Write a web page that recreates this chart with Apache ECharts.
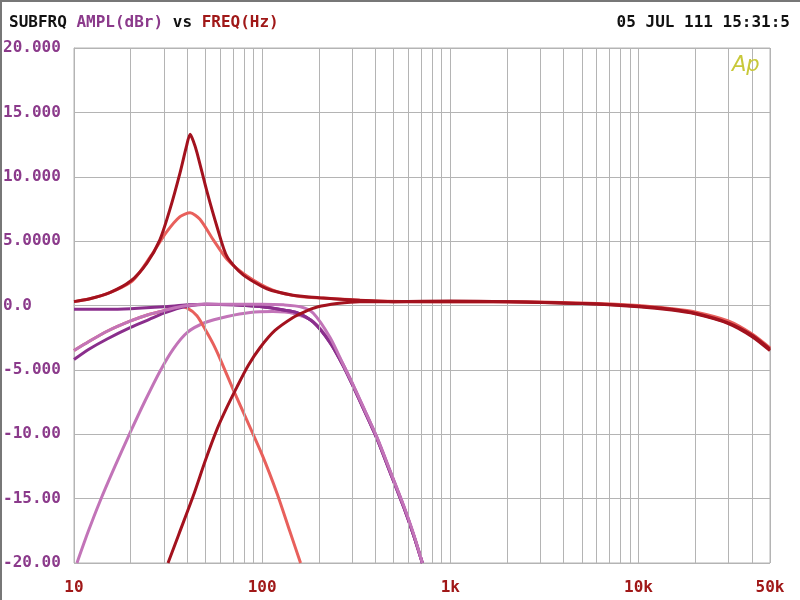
<!DOCTYPE html>
<html><head><meta charset="utf-8">
<script src="https://cdn.jsdelivr.net/npm/echarts@6/dist/echarts.min.js"></script>
<style>html,body{margin:0;padding:0;background:#fff}#c{width:800px;height:600px}</style>
</head><body><div id="c"></div>
<script>
// ---- tick labels ----
const yTickValues = [-20, -15, -10, -5, 0, 5, 10, 15, 20];
const yTickLabels = ['-20.00', '-15.00', '-10.00', '-5.000', '0.0', '5.0000', '10.000', '15.000', '20.000'];
const xTickValues = [10, 100, 1000, 10000, 50000];
const xTickLabels = ['10', '100', '1k', '10k', '50k'];
const xMinorGrid = [20, 30, 40, 50, 60, 70, 80, 90, 200, 300, 400, 500, 600, 700, 800, 900,
  2000, 3000, 4000, 5000, 6000, 7000, 8000, 9000, 20000, 30000, 40000];

// ---- series values: [frequency Hz, amplitude dBr] ----
const darkRedPeak = [[10,0.3],[12,0.5],[15.5,1.0],[20,1.9],[24.4,3.3],[28.6,5.1],[32.4,7.5],[36.6,10.3],
  [39.5,12.3],[41.4,13.3],[43,12.8],[45,11.9],[51,8.8],[57.6,6.1],[65,3.8],[79,2.4],[106,1.3],[146,0.8],
  [203,0.6],[330,0.4],[500,0.3],[1000,0.3],[2000,0.3],[5000,0.15],[10000,-0.05],[15000,-0.3],[20000,-0.6],
  [30000,-1.35],[40000,-2.3],[50000,-3.4]];
const lightRedPeak = [[10,0.3],[12,0.5],[15.5,1.0],[20,1.8],[22.4,2.6],[26.3,4.1],[31,5.7],[36.6,6.9],
  [41.4,7.2],[46.7,6.7],[55,5.1],[65,3.6],[83,2.3],[114,1.2],[159,0.7],[260,0.5],[420,0.35],[1000,0.3],
  [2000,0.3],[5000,0.2],[10000,0.0],[15000,-0.25],[20000,-0.5],[30000,-1.2],[40000,-2.2],[50000,-3.3]];
const lightRedLowpass = [[10,-3.5],[12,-2.8],[15,-2.0],[20,-1.2],[25,-0.7],[30,-0.4],[36,-0.1],[40,-0.2],
  [45,-0.8],[50,-1.9],[55,-3.0],[60,-4.2],[70,-6.5],[80,-8.4],[100,-11.6],[120,-14.6],[140,-17.5],[160,-20]];
const darkRedHighpass = [[31.6,-20],[36,-17.8],[43,-14.8],[50,-12.0],[57.6,-9.6],[65,-7.9],[73.6,-6.3],
  [84.3,-4.66],[97.6,-3.26],[117,-1.94],[146,-0.93],[169,-0.47],[196,-0.12],[250,0.15],[330,0.3],[500,0.3],
  [1000,0.35],[2000,0.3],[5000,0.15],[10000,-0.1],[15000,-0.35],[20000,-0.65],[30000,-1.4],[40000,-2.4],[50000,-3.5]];
const darkPurpleFlat = [[10,-0.3],[15,-0.3],[20,-0.25],[30,-0.1],[40,0.05],[50,0.1],[70,0.05],[100,-0.1],
  [130,-0.35],[153,-0.55],[187,-1.3],[230,-2.9],[270,-4.7],[305,-6.3],[350,-8.2],[409,-10.4],[480,-13.0],
  [563,-15.6],[640,-17.9],[710,-20]];
const darkPurpleRising = [[10,-4.2],[12,-3.4],[15,-2.6],[20,-1.7],[25,-1.1],[30,-0.6],[35,-0.25],[40,-0.05],
  [50,0.1],[70,0.05],[100,-0.1],[130,-0.35],[153,-0.55],[187,-1.3],[230,-2.9],[270,-4.7],[305,-6.3],
  [350,-8.2],[409,-10.4],[480,-13.0],[563,-15.6],[640,-17.9],[710,-20]];
const orchidRising = [[10,-3.5],[12,-2.8],[15,-2.0],[20,-1.2],[25,-0.7],[30,-0.4],[35,-0.15],[40,0.0],
  [50,0.1],[70,0.1],[100,0.1],[130,0.05],[160,-0.1],[187,-0.6],[230,-2.5],[270,-4.6],[305,-6.2],[350,-8.1],
  [409,-10.3],[480,-12.9],[563,-15.5],[640,-17.8],[710,-20]];
const orchidHighpass = [[10.37,-20],[11.87,-17.6],[13.75,-15.2],[16.5,-12.5],[19.84,-9.9],[23.87,-7.4],
  [28.65,-5.1],[33.6,-3.4],[39.9,-2.1],[49.8,-1.32],[65.2,-0.85],[86.4,-0.54],[114,-0.47],[146,-0.6],
  [187,-1.25],[230,-2.8],[270,-4.6],[305,-6.2],[350,-8.1],[409,-10.3],[480,-12.9],[563,-15.5],[640,-17.9],[710,-20]];

const C_DARKRED = '#a3121e', C_LIGHTRED = '#e8605c', C_DPURPLE = '#8a2e8c', C_ORCHID = '#c274b8';
const C_GRID = '#b4b4b4';
const FONT = 'DejaVu Sans Mono';

function line(name, data, color, z) {
  return { name, type: 'line', data, showSymbol: false, smooth: 0.25, z,
    lineStyle: { color, width: 3 }, itemStyle: { color }, emphasis: { disabled: true } };
}

const chart = echarts.init(document.getElementById('c'), null, { renderer: 'canvas' });
chart.setOption({
  animation: false,
  backgroundColor: '#fff',
  title: [{
    text: '{k|SUBFRQ} {p|AMPL(dBr)} {k|vs} {r|FREQ(Hz)}', left: 4, top: 10,
    textStyle: { fontFamily: FONT, fontSize: 16, fontWeight: 'bold', color: '#111',
      rich: {
        k: { fontFamily: FONT, fontSize: 16, fontWeight: 'bold', color: '#111' },
        p: { fontFamily: FONT, fontSize: 16, fontWeight: 'bold', color: '#8b3a8b' },
        r: { fontFamily: FONT, fontSize: 16, fontWeight: 'bold', color: '#a01818' }
      } }
  }, {
    text: '05 JUL 111 15:31:5', right: 5, top: 10,
    textStyle: { fontFamily: FONT, fontSize: 16, fontWeight: 'bold', color: '#111' }
  }],
  grid: { left: 74, right: 30, top: 48, bottom: 37, show: true, borderColor: C_GRID, borderWidth: 1 },
  xAxis: {
    type: 'log', logBase: 10, min: 10, max: 50000,
    axisLine: { lineStyle: { color: C_GRID } },
    axisTick: { show: false },
    splitLine: { show: true, lineStyle: { color: C_GRID, width: 1 } },
    axisLabel: { margin: 17, fontFamily: FONT, fontSize: 16, fontWeight: 'bold', color: '#a01818',
      showMaxLabel: true,
      formatter: v => { const i = xTickValues.findIndex(t => Math.abs(t - v) / t < 1e-6); return i >= 0 ? xTickLabels[i] : ''; } }
  },
  yAxis: {
    type: 'value', min: -20, max: 20, interval: 5,
    axisLine: { show: true, lineStyle: { color: C_GRID } },
    axisTick: { show: false },
    splitLine: { show: true, lineStyle: { color: C_GRID, width: 1 } },
    axisLabel: { margin: 71, align: 'left', fontFamily: FONT, fontSize: 16, fontWeight: 'bold', color: '#8b3a8b',
      formatter: v => { const i = yTickValues.indexOf(v); return i >= 0 ? yTickLabels[i] : ''; } }
  },
  graphic: [
    { type: 'rect', shape: { x: 718, y: 49, width: 51, height: 34 }, style: { fill: '#fff' }, z: 5, silent: true },
    { type: 'text', x: 732, y: 55, z: 6, silent: true,
      style: { text: 'Ap', fill: '#c8c83a', font: 'italic 21px "DejaVu Sans"' } },
    { type: 'line', shape: { x1: 0, y1: 1, x2: 800, y2: 1 }, style: { stroke: '#777', lineWidth: 2 }, z: 6 },
    { type: 'line', shape: { x1: 1, y1: 0, x2: 1, y2: 600 }, style: { stroke: '#777', lineWidth: 2 }, z: 6 }
  ],
  series: [
    { name: 'grid', type: 'line', data: [], z: 1, silent: true,
      markLine: { silent: true, symbol: 'none', animation: false, label: { show: false },
        lineStyle: { color: C_GRID, width: 1, type: 'solid' },
        emphasis: { disabled: true },
        data: xMinorGrid.map(v => ({ xAxis: v })) } },
    line('orchidHighpass', orchidHighpass, C_ORCHID, 2),
    line('lightRedLowpass', lightRedLowpass, C_LIGHTRED, 3),
    line('darkPurpleFlat', darkPurpleFlat, C_DPURPLE, 4),
    line('darkPurpleRising', darkPurpleRising, C_DPURPLE, 4),
    line('orchidRising', orchidRising, C_ORCHID, 5),
    line('lightRedPeak', lightRedPeak, C_LIGHTRED, 6),
    line('darkRedHighpass', darkRedHighpass, C_DARKRED, 7),
    line('darkRedPeak', darkRedPeak, C_DARKRED, 8)
  ]
});
</script></body></html>
